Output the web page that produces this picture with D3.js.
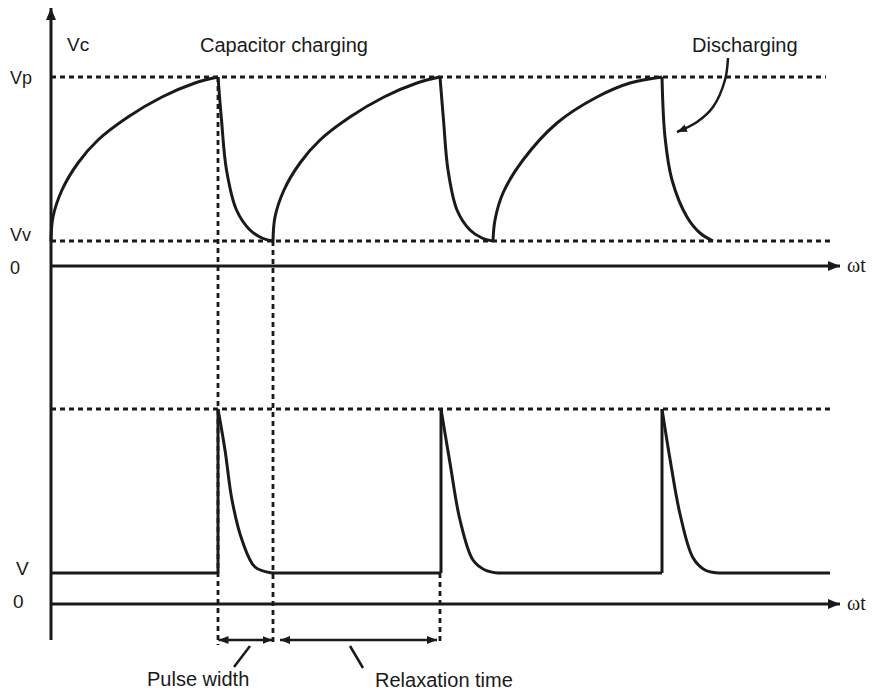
<!DOCTYPE html>
<html>
<head>
<meta charset="utf-8">
<script src="https://cdn.jsdelivr.net/npm/d3@7"></script>
<style>
  body { margin: 0; background: #fff; }
  text { font-family: "Liberation Sans", Arial, sans-serif; fill: #1a1a1a; }
</style>
</head>
<body>
<div id="chart"></div>
<script>
// levels (top: capacitor voltage, bottom: output)
const Vp = 7.56, Vv = 1.0;
const Vlev = 1.24, Vpeak = 7.8;

// capacitor charging segments (t, Vc)
const chargeT = [
  [0, 2, 11, 27, 47, 77, 111, 144, 167],
  [222, 224, 233, 249, 269, 299, 333, 366, 389],
  [442, 444, 452, 472, 506, 546, 579, 611]
];
const chargeV = [
  [1.0, 1.96, 3.04, 4.12, 5.04, 5.96, 6.76, 7.32, 7.56],
  [1.0, 1.96, 3.04, 4.12, 5.04, 5.96, 6.76, 7.32, 7.56],
  [1.0, 1.84, 2.92, 4.24, 5.72, 6.76, 7.32, 7.56]
];
// discharging segments
const dischargeT = [
  [167, 170.5, 175.5, 185.5, 199, 211, 222],
  [389, 392.5, 397, 406, 419, 431, 442],
  [611, 614, 621, 636, 649, 662]
];
const dischargeV = [
  [7.56, 5.84, 3.84, 2.24, 1.44, 1.12, 1.0],
  [7.56, 5.84, 3.84, 2.24, 1.44, 1.12, 1.0],
  [7.56, 5.16, 3.44, 1.96, 1.32, 1.0]
];
// output pulses
const pulseT = [
  [167, 174, 181, 191, 204, 221],
  [390, 399, 409, 422, 434, 446],
  [611, 619, 629, 642, 654, 667]
];
const pulseV = [
  [7.8, 6.16, 4.16, 2.56, 1.48, 1.24],
  [7.8, 5.64, 3.36, 1.76, 1.36, 1.24],
  [7.8, 5.8, 3.6, 1.85, 1.36, 1.24]
];
const outEnd = 779;

const topTickLabels = ["Vp", "Vv", "0"];
const topTickValues = [Vp, Vv, 0];
const topTickDy = [7, 0, 8];
const botTickLabels = ["V", "0"];
const botTickValues = [Vlev, 0];
const botTickDy = [2, 4];

// "Discharging" pointer path
const pointerT = [677, 674, 662, 646, 626];
const pointerV = [8.32, 7.44, 6.36, 5.76, 5.36];

const width = 873, height = 690;
const ink = "#1a1a1a";

const x = d3.scaleLinear().domain([0, 800]).range([51, 851]);
const yTop = d3.scaleLinear().domain([0, 10]).range([266, 16]);
const yBot = d3.scaleLinear().domain([0, 10]).range([604, 354]);

const svg = d3.select("#chart").append("svg")
  .attr("width", width)
  .attr("height", height);

const defs = svg.append("defs");
defs.append("marker")
  .attr("id", "head")
  .attr("viewBox", "0 0 10 10")
  .attr("refX", 10).attr("refY", 5)
  .attr("markerWidth", 10).attr("markerHeight", 10)
  .attr("markerUnits", "userSpaceOnUse")
  .attr("orient", "auto-start-reverse")
  .append("path").attr("d", "M0,1 L10,5 L0,9 Z").attr("fill", ink);
defs.append("marker")
  .attr("id", "bighead")
  .attr("viewBox", "0 0 12 10")
  .attr("refX", 12).attr("refY", 5)
  .attr("markerWidth", 12).attr("markerHeight", 10)
  .attr("markerUnits", "userSpaceOnUse")
  .attr("orient", "auto")
  .append("path").attr("d", "M0,0 L12,5 L0,10 Z").attr("fill", ink);

function dashed(x1, y1, x2, y2) {
  svg.append("line")
    .attr("x1", x1).attr("y1", y1).attr("x2", x2).attr("y2", y2)
    .attr("stroke", ink).attr("stroke-width", 2.8)
    .attr("stroke-dasharray", "5,4");
}

// dashed reference levels
dashed(x(0), yTop(Vp), x(775), yTop(Vp));
dashed(x(0), yTop(Vv), x(779), yTop(Vv));
dashed(x(0), yBot(Vpeak), x(779), yBot(Vpeak));

// vertical guide lines
dashed(x(167), yTop(Vp), x(167), yBot(-1.64));
dashed(x(222), yTop(Vv), x(222), yBot(-1.64));
dashed(x(389), yBot(Vlev), x(389), yBot(-1.64));

// axes
svg.append("line")
  .attr("x1", x(0)).attr("y1", yBot(-1.44))
  .attr("x2", x(0)).attr("y2", yTop(10.32))
  .attr("stroke", ink).attr("stroke-width", 3)
  .attr("marker-end", "url(#bighead)");
svg.append("line")
  .attr("x1", x(0)).attr("y1", yTop(0))
  .attr("x2", x(789)).attr("y2", yTop(0))
  .attr("stroke", ink).attr("stroke-width", 3)
  .attr("marker-end", "url(#bighead)");
svg.append("line")
  .attr("x1", x(0)).attr("y1", yBot(0))
  .attr("x2", x(789)).attr("y2", yBot(0))
  .attr("stroke", ink).attr("stroke-width", 3)
  .attr("marker-end", "url(#bighead)");

// capacitor voltage trace
const smooth = d3.curveCatmullRom.alpha(0.5);
const lineTop = d3.line()
  .x(d => x(d[0])).y(d => yTop(d[1]))
  .curve(smooth);
chargeT.forEach((ts, i) => {
  svg.append("path")
    .attr("d", lineTop(ts.map((t, j) => [t, chargeV[i][j]])))
    .attr("fill", "none").attr("stroke", ink).attr("stroke-width", 3)
    .attr("stroke-linejoin", "round");
});
dischargeT.forEach((ts, i) => {
  svg.append("path")
    .attr("d", lineTop(ts.map((t, j) => [t, dischargeV[i][j]])))
    .attr("fill", "none").attr("stroke", ink).attr("stroke-width", 3);
});

// output trace
const lineBot = d3.line()
  .x(d => x(d[0])).y(d => yBot(d[1]))
  .curve(smooth);
const straight = d3.line().x(d => x(d[0])).y(d => yBot(d[1]));
const flats = [[0, pulseT[0][0]]];
pulseT.forEach((ts, i) => {
  const next = i < pulseT.length - 1 ? pulseT[i + 1][0] : outEnd;
  flats.push([ts[ts.length - 1], next]);
});
flats.forEach(f => {
  svg.append("path")
    .attr("d", straight([[f[0], Vlev], [f[1], Vlev]]))
    .attr("fill", "none").attr("stroke", ink).attr("stroke-width", 3);
});
pulseT.forEach((ts, i) => {
  svg.append("path")
    .attr("d", straight([[ts[0], Vlev], [ts[0], Vpeak]]))
    .attr("fill", "none").attr("stroke", ink).attr("stroke-width", 3);
  svg.append("path")
    .attr("d", lineBot(ts.map((t, j) => [t, pulseV[i][j]])))
    .attr("fill", "none").attr("stroke", ink).attr("stroke-width", 3);
});

// tick labels
svg.selectAll(".tt").data(topTickLabels).enter().append("text")
  .attr("x", 10).attr("y", (d, i) => yTop(topTickValues[i]) + topTickDy[i])
  .attr("font-size", 18).text(d => d);
svg.selectAll(".bt").data(botTickLabels).enter().append("text")
  .attr("x", (d, i) => i === 0 ? 16 : 13)
  .attr("y", (d, i) => yBot(botTickValues[i]) + botTickDy[i])
  .attr("font-size", 19).text(d => d);

svg.append("text").attr("x", 67).attr("y", 51).attr("font-size", 19).text("Vc");
["ωt", "ωt"].forEach((s, i) => {
  svg.append("text")
    .attr("x", 847).attr("y", (i === 0 ? yTop(0) : yBot(0)) + 6)
    .attr("font-size", 20)
    .style("font-family", "'Liberation Serif', 'Times New Roman', serif")
    .text(s);
});

// annotations
svg.append("text").attr("x", 200).attr("y", 52).attr("font-size", 20)
  .text("Capacitor charging");
svg.append("text").attr("x", 692).attr("y", 52).attr("font-size", 20)
  .text("Discharging");
svg.append("path")
  .attr("d", d3.line().x(d => x(d)).y((d, i) => yTop(pointerV[i]))
    .curve(d3.curveCatmullRom)(pointerT))
  .attr("fill", "none").attr("stroke", ink).attr("stroke-width", 2.5)
  .attr("marker-end", "url(#head)");

// dimension arrows
const dimY = yBot(-1.44);
[[167.5, 221.5], [229, 386]].forEach(d => {
  svg.append("line")
    .attr("x1", x(d[0])).attr("y1", dimY).attr("x2", x(d[1])).attr("y2", dimY)
    .attr("stroke", ink).attr("stroke-width", 2.5)
    .attr("marker-start", "url(#head)").attr("marker-end", "url(#head)");
});
svg.append("line")
  .attr("x1", x(199)).attr("y1", dimY + 6).attr("x2", x(183)).attr("y2", dimY + 27)
  .attr("stroke", ink).attr("stroke-width", 2.5);
svg.append("line")
  .attr("x1", x(299)).attr("y1", dimY + 6).attr("x2", x(312)).attr("y2", dimY + 28)
  .attr("stroke", ink).attr("stroke-width", 2.5);
svg.append("text").attr("x", 147).attr("y", 686).attr("font-size", 20).text("Pulse width");
svg.append("text").attr("x", 375).attr("y", 687).attr("font-size", 20).text("Relaxation time");
</script>
</body>
</html>
